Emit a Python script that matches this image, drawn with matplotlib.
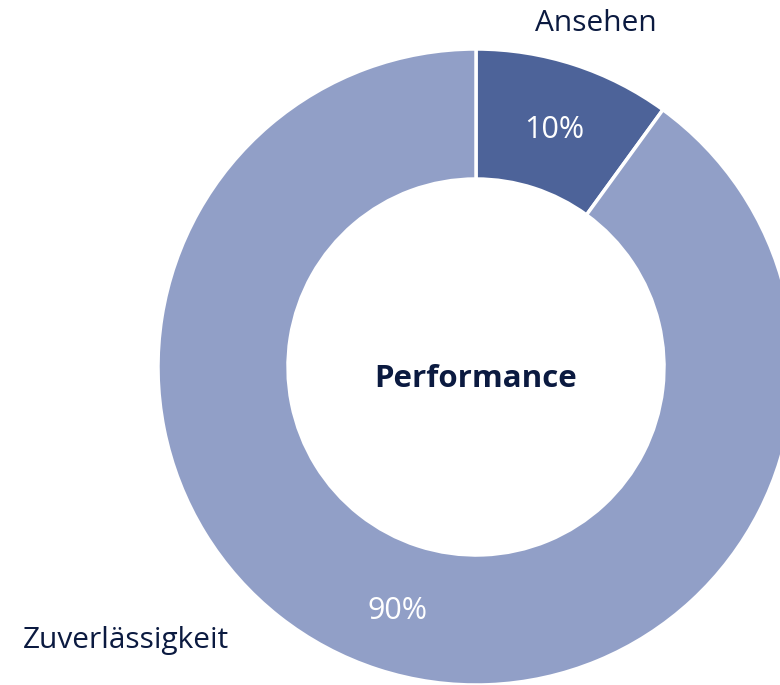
import matplotlib
matplotlib.use("Agg")
import matplotlib.pyplot as plt
import numpy as np

categories = ["Ansehen", "Zuverlässigkeit"]
values = [10, 90]
center_title = "Performance"

colors = ["#4d6399", "#919fc7"]
text_color = "#0b1a40"

plt.rcParams['font.family'] = ['Open Sans', 'DejaVu Sans']

W, H = 780, 685
fig = plt.figure(figsize=(W / 100, H / 100), dpi=100)
ax = fig.add_axes([0, 0, 1, 1])

cx, cy = 476, H - 367
R = 318
ring = 130

wedges, texts = ax.pie(
    values, colors=colors, startangle=90, counterclock=False,
    radius=R, center=(cx, cy), frame=True,
    wedgeprops=dict(width=ring, edgecolor="white", linewidth=2.5))

ax.set_xlim(0, W)
ax.set_ylim(0, H)
ax.set_aspect("equal")
ax.axis("off")

total = sum(values)
rmid = R - ring / 2
cap_half = 11.5
for w, v in zip(wedges, values):
    ang = np.deg2rad((w.theta1 + w.theta2) / 2)
    x = cx + rmid * np.cos(ang)
    y = cy + rmid * np.sin(ang)
    ax.text(x, y - cap_half, f"{100 * v / total:.0f}%", ha="center",
            va="baseline", fontsize=22, color="white")

ax.text(cx, H - 387, center_title, ha="center", va="baseline", fontsize=22.5,
        fontweight="bold", color=text_color)

# category labels
ax.text(596, H - 31, categories[0], ha="center", va="baseline", fontsize=21.5,
        color=text_color)
ax.text(126, H - 648, categories[1], ha="center", va="baseline", fontsize=21.5,
        color=text_color)

fig.savefig("out.png", dpi=100)
